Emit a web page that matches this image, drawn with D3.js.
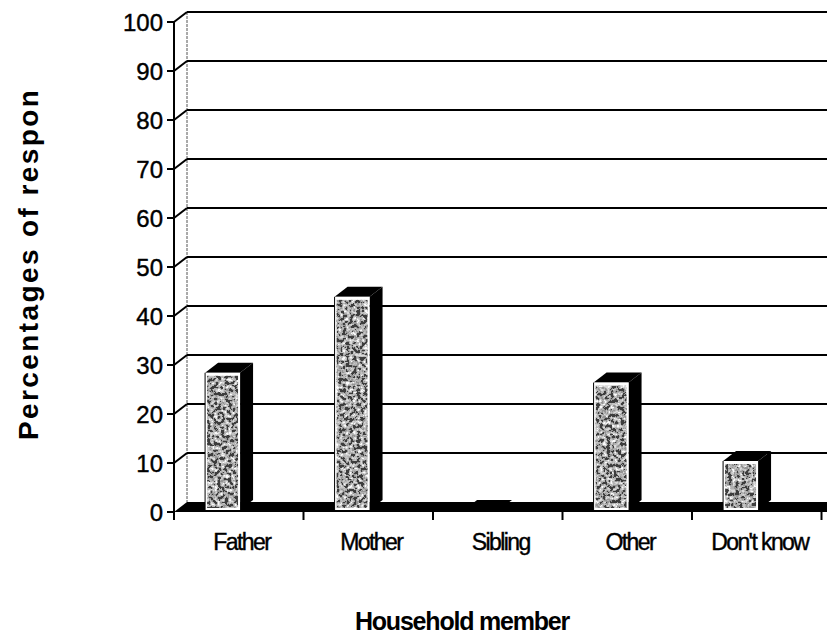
<!DOCTYPE html>
<html>
<head>
<meta charset="utf-8">
<script src="https://cdn.jsdelivr.net/npm/d3@7/dist/d3.min.js"></script>
<style>
  html, body { margin: 0; padding: 0; background: #fff; }
  svg { display: block; }
</style>
</head>
<body>
<svg id="chart" width="827" height="638"></svg>
<script>
// ---- data ----
const categories = ["Father", "Mother", "Sibling", "Other", "Don't know"];
const values = [28, 43.5, 0, 26, 10];
const yTicks = [0, 10, 20, 30, 40, 50, 60, 70, 80, 90, 100];
const yTitle = "Percentages of respondents";
const xTitle = "Household member";

// ---- layout ----
const W = 827, H = 638;
const DX = 13, DY = -10;          // 3D depth offset of the back wall
const BDX = 2.6, BDY = -2;        // bar front face depth shift
const svg = d3.select("#chart");

const y = d3.scaleLinear().domain([0, 100]).range([512, 22]);
const x = d3.scaleBand().domain(categories).range([174, 821.5]).padding(0);
const bw = x.bandwidth();

const defs = svg.append("defs");
const f = defs.append("filter").attr("id", "speckle")
  .attr("x", 0).attr("y", 0).attr("width", 1).attr("height", 1);
f.append("feTurbulence").attr("type", "fractalNoise").attr("baseFrequency", 0.28)
  .attr("numOctaves", 4).attr("seed", 11).attr("result", "noise");
f.append("feColorMatrix").attr("in", "noise").attr("type", "matrix")
  .attr("values", "2.2 0 0 0 -0.75  2.2 0 0 0 -0.75  2.2 0 0 0 -0.75  0 0 0 0 1")
  .attr("result", "grey");
const ct = f.append("feComponentTransfer").attr("in", "grey").attr("result", "disc");
["feFuncR", "feFuncG", "feFuncB"].forEach(n =>
  ct.append(n).attr("type", "discrete").attr("tableValues", "0.05 0.3 0.45 0.55 0.7 0.95"));
f.append("feComposite").attr("in", "disc").attr("in2", "SourceGraphic").attr("operator", "in");

defs.append("clipPath").attr("id", "titleClip")
  .append("rect").attr("x", 0).attr("y", 88).attr("width", 80).attr("height", 500);

// back wall vertical edge
svg.append("line")
  .attr("x1", 174 + DX).attr("x2", 174 + DX)
  .attr("y1", y(100) + DY).attr("y2", y(0) + DY)
  .attr("stroke", "#555").attr("stroke-width", 1).attr("stroke-dasharray", "3,1");

// gridlines: left wall slant + back wall horizontal
const grid = svg.append("g");
yTicks.filter(t => t > 0).forEach(t => {
  grid.append("line")
    .attr("x1", 174).attr("y1", y(t)).attr("x2", 174 + DX).attr("y2", y(t) + DY)
    .attr("stroke", "#000").attr("stroke-width", 2);
  grid.append("line")
    .attr("x1", 174 + DX).attr("y1", y(t) + DY).attr("x2", W + 20).attr("y2", y(t) + DY)
    .attr("stroke", "#000").attr("stroke-width", 2);
});

// floor
const x0 = x.range()[0], x1 = x.range()[1];
svg.append("polygon")
  .attr("points", [[x0, y(0)], [x0 + DX, y(0) + DY], [W + 30, y(0) + DY], [W + 30, y(0)]].map(p => p.join(",")).join(" "))
  .attr("fill", "#000");

// bars
const bars = svg.append("g");
categories.forEach((c, i) => {
  const v = values[i];
  const fx0 = x(c) + bw * 0.22 + BDX;
  const fx1 = fx0 + bw * 0.27;
  const top = y(v) + BDY;
  const base = y(0) + BDY;
  const g = bars.append("g");
  g.append("polygon")
    .attr("points", [[fx1, top], [fx1 + DX, top + DY], [fx1 + DX, base + DY], [fx1, base]].map(p => p.join(",")).join(" "))
    .attr("fill", "#000");
  g.append("polygon")
    .attr("points", [[fx0, top], [fx0 + DX, top + DY], [fx1 + DX, top + DY], [fx1, top]].map(p => p.join(",")).join(" "))
    .attr("fill", "#000");
  if (v > 0) {
    g.append("rect").attr("x", fx0).attr("y", top).attr("width", fx1 - fx0).attr("height", base - top)
      .attr("fill", "#fff");
    g.append("rect").attr("x", fx0 + 2).attr("y", top + 3).attr("width", fx1 - fx0 - 4).attr("height", base - top - 5)
      .attr("fill", "#888").attr("filter", "url(#speckle)");
    g.append("line").attr("x1", fx0).attr("x2", fx0).attr("y1", top).attr("y2", base)
      .attr("stroke", "#000").attr("stroke-width", 1);
  }
});

// front y axis
const yAxis = svg.append("g");
yAxis.append("line").attr("x1", 174).attr("x2", 174).attr("y1", y(100)).attr("y2", y(0) + 8)
  .attr("stroke", "#000").attr("stroke-width", 2);
yTicks.forEach(t => {
  yAxis.append("line").attr("x1", 167).attr("x2", 174).attr("y1", y(t)).attr("y2", y(t))
    .attr("stroke", "#000").attr("stroke-width", 2);
  yAxis.append("text").attr("x", 163).attr("y", y(t)).attr("dy", "0.36em")
    .attr("text-anchor", "end")
    .style("font-family", "'Liberation Sans', Arial, sans-serif").style("font-size", "24px")
    .style("stroke", "#000").style("stroke-width", "0.4px")
    .text(t);
});

// x axis ticks and labels
const xAxis = svg.append("g");
const bounds = categories.map(c => x(c)).concat([x1]);
bounds.forEach(b => {
  xAxis.append("line").attr("x1", b).attr("x2", b).attr("y1", y(0)).attr("y2", y(0) + 8)
    .attr("stroke", "#000").attr("stroke-width", 2);
});
categories.forEach(c => {
  xAxis.append("text").attr("x", x(c) + bw / 2 + 3).attr("y", 550)
    .attr("text-anchor", "middle")
    .style("font-family", "'Liberation Sans', Arial, sans-serif").style("font-size", "23px")
    .style("letter-spacing", "-1.6px")
    .style("stroke", "#000").style("stroke-width", "0.4px")
    .text(c);
});

// titles
svg.append("g").attr("clip-path", "url(#titleClip)")
  .append("text")
  .attr("transform", "translate(38,440) rotate(-90)")
  .attr("text-anchor", "start")
  .style("font-family", "'Liberation Sans', Arial, sans-serif").style("font-size", "28px")
  .style("font-weight", "bold").style("letter-spacing", "2.4px")
  .text(yTitle);

svg.append("text").attr("x", 462).attr("y", 630).attr("text-anchor", "middle")
  .style("font-family", "'Liberation Sans', Arial, sans-serif").style("font-size", "25px")
  .style("font-weight", "bold").style("letter-spacing", "-1.2px")
  .text(xTitle);
</script>
</body>
</html>
